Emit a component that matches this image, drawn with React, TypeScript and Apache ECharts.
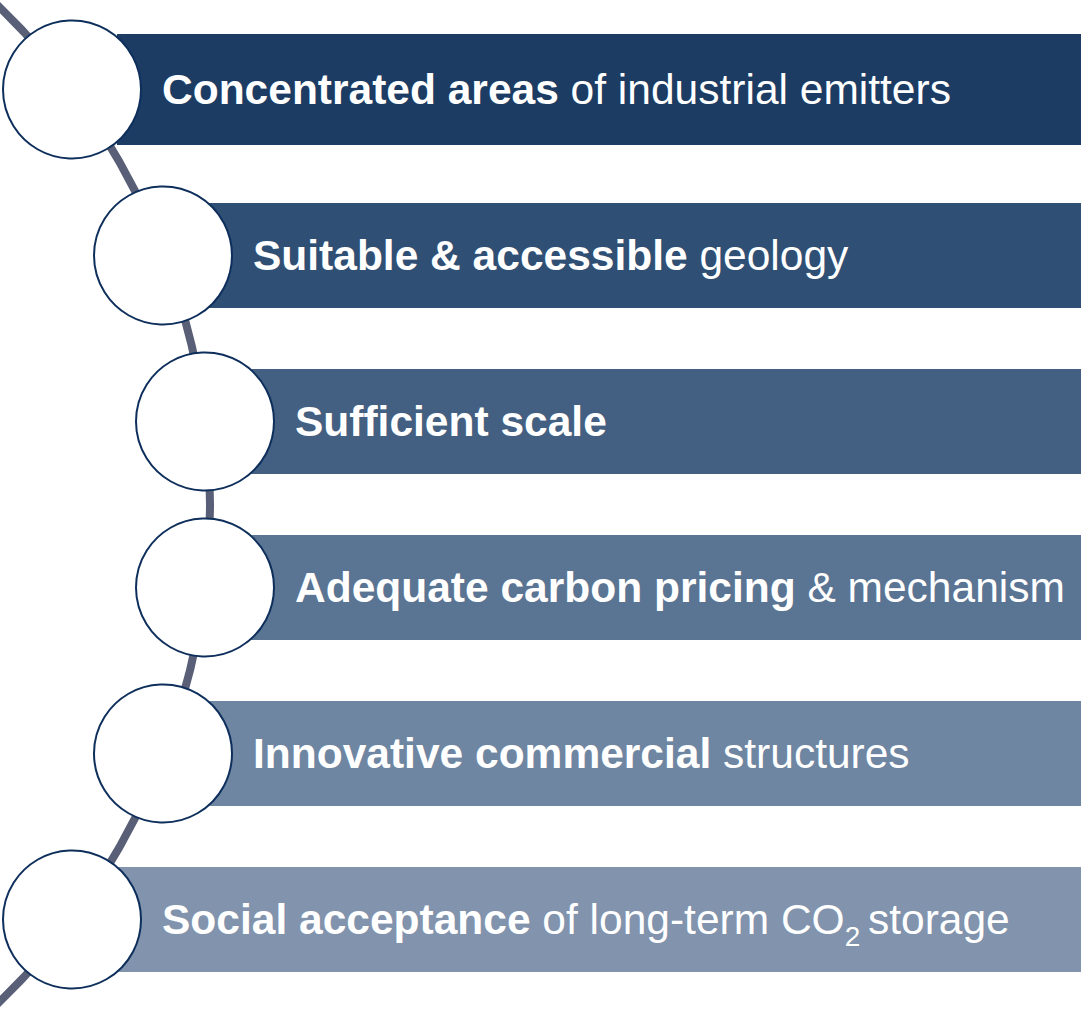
import React, { useEffect, useRef } from "react";
import * as echarts from "echarts";

// Content
const boldParts = [
  "Concentrated areas",
  "Suitable & accessible",
  "Sufficient scale",
  "Adequate carbon pricing",
  "Innovative commercial",
  "Social acceptance",
];
const plainParts = [
  " of industrial emitters",
  " geology",
  "",
  " & mechanism",
  " structures",
  " of long-term CO",
];
const subscriptParts = ["", "", "", "", "", "2 "];
const tailParts = ["", "", "", "", "", "storage"];

// Layout (positions / styles)
const boxColors = ["#1C3C64", "#2F4F75", "#435F81", "#5A7493", "#6E86A2", "#8193AD"];
const centerX = [72, 163, 205, 205, 163, 72];
const centerY = [89.5, 255.5, 421.5, 587.5, 753.5, 919.5];
const boxHeights = [111, 105, 105, 105, 105, 105];

const FONT = '"Liberation Sans", Arial, Helvetica, sans-serif';

const App: React.FC = () => {
  const ref = useRef<HTMLDivElement>(null);
  useEffect(() => {
    if (!ref.current) return;
    const chart = echarts.init(ref.current, undefined, { renderer: "svg" });
    const R = 69;
    const graphics: any[] = [];
    graphics.push({
      type: "arc",
      z: 1,
      shape: { cx: -483, cy: 504.5, r: 693, startAngle: -0.81, endAngle: 0.81, clockwise: true },
      style: { stroke: "#585F76", lineWidth: 8, fill: null },
    });
    boldParts.forEach((b, i) => {
      const left = centerX[i] + 45;
      const h = boxHeights[i];
      graphics.push({
        type: "rect",
        z: 2,
        shape: { x: left, y: centerY[i] - h / 2, width: 1081 - left, height: h },
        style: { fill: boxColors[i] },
      });
      let txt = `{b|${b}}`;
      if (plainParts[i]) txt += `{n|${plainParts[i]}}`;
      if (subscriptParts[i]) txt += `{s|${subscriptParts[i]}}`;
      if (tailParts[i]) txt += `{n|${tailParts[i]}}`;
      graphics.push({
        type: "text",
        z: 4,
        x: centerX[i] + 90,
        y: centerY[i],
        style: {
          text: txt,
          fill: "#FFFFFF",
          verticalAlign: "middle",
          align: "left",
          fontFamily: FONT,
          rich: {
            b: { fontSize: 42.5, fontWeight: "bold", fill: "#FFFFFF", lineHeight: 62, fontFamily: FONT },
            n: { fontSize: 42.5, fontWeight: "normal", fill: "#FFFFFF", lineHeight: 62, fontFamily: FONT },
            s: { fontSize: 28, fontWeight: "normal", fill: "#FFFFFF", lineHeight: 28, verticalAlign: "bottom", fontFamily: FONT },
          },
        },
      });
      graphics.push({
        type: "circle",
        z: 3,
        shape: { cx: centerX[i], cy: centerY[i], r: R },
        style: { fill: "#FFFFFF", stroke: "#0E2F5C", lineWidth: 2 },
      });
    });
    chart.setOption({ animation: false, graphic: graphics });
    return () => chart.dispose();
  }, []);
  return (
    <div
      ref={ref}
      style={{ position: "fixed", left: 0, top: 0, width: 1081, height: 1009, background: "#FFFFFF" }}
    />
  );
};

export default App;
